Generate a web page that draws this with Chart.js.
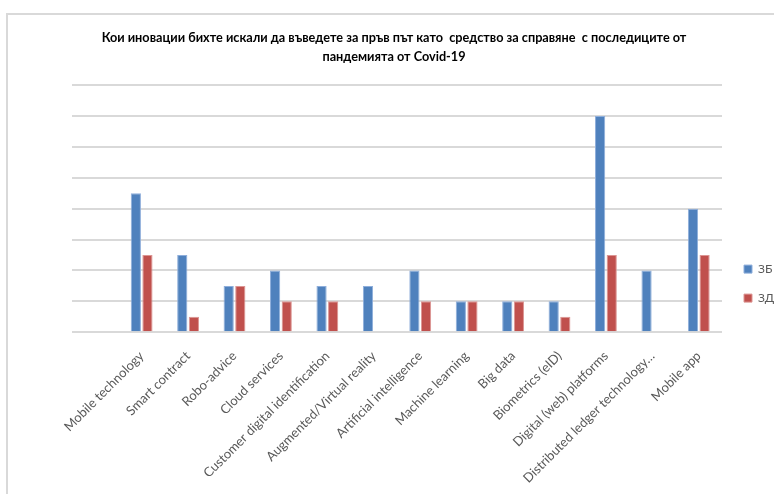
<!DOCTYPE html>
<html>
<head>
<meta charset="utf-8">
<script src="https://cdn.jsdelivr.net/npm/chart.js@4"></script>
<style>
  body { margin: 0; background: #fff; }
  #wrap { position: relative; width: 774px; height: 494px; overflow: hidden; }
  /* thin frame of the chart object, only left and top edges are in view */
  #frame { position: absolute; left: 6px; top: 13px; width: 800px; height: 500px;
           border-left: 2px solid #d9d9d9; border-top: 2px solid #d9d9d9; }
  #chart { position: absolute; left: 0; top: 0; }
</style>
</head>
<body>
<div id="wrap">
  <div id="frame"></div>
  <canvas id="chart" width="774" height="494"></canvas>
</div>
<script>
// categories (the first slot is left blank on purpose)
let categories = ['', 'Mobile technology', 'Smart contract', 'Robo-advice', 'Cloud services',
  'Customer digital identification', 'Augmented/Virtual reality', 'Artificial intelligence',
  'Machine learning', 'Big data', 'Biometrics (eID)', 'Digital (web) platforms',
  'Distributed ledger technology…', 'Mobile app'];

let series_names = ['ЗБ', 'ЗД'];
let values_zb = [null, 9, 5, 3, 4, 3, 3, 4, 2, 2, 2, 14, 4, 8];
let values_zd = [null, 5, 1, 3, 2, 2, 0, 2, 2, 2, 1, 5, 0, 5];

let y_max = 16;
let y_step = 2;

let title_lines = ['Кои иновации бихте искали да въведете за пръв път като  средство за справяне  с последиците от',
  'пандемията от Covid-19'];

const font_family = 'Lato, "Liberation Sans", sans-serif';

let ctx = document.getElementById('chart').getContext('2d');
window.myChart = new Chart(ctx, {
  type: 'bar',
  data: {
    labels: categories,
    datasets: [{
      label: series_names[0],
      data: values_zb,
      backgroundColor: '#4f81bd',
      borderColor: '#8eaedb',
      borderWidth: 1,
      categoryPercentage: 0.5,
      barPercentage: 0.88
    }, {
      label: series_names[1],
      data: values_zd,
      backgroundColor: '#c0504d',
      borderColor: '#dc9593',
      borderWidth: 1,
      categoryPercentage: 0.5,
      barPercentage: 0.88
    }]
  },
  options: {
    responsive: false,
    animation: false,
    layout: { padding: { left: 14, right: 0, top: 0, bottom: 0 } },
    plugins: {
      title: {
        display: true,
        text: title_lines,
        color: '#000',
        font: { family: font_family, size: 12.7, weight: 'bold', lineHeight: 1.5 },
        padding: { top: 28, bottom: 19 }
      },
      legend: {
        position: 'right',
        maxWidth: 47,
        // empty title only pushes the two entries a bit lower
        title: { display: true, text: '', font: { size: 1 }, padding: { top: 72, bottom: 0 } },
        labels: {
          boxWidth: 8,
          boxHeight: 8,
          padding: 17,
          color: '#595959',
          font: { family: font_family, size: 12 }
        }
      },
      tooltip: { enabled: false }
    },
    scales: {
      x: {
        grid: { display: false },
        border: { display: false },
        ticks: {
          minRotation: 45,
          maxRotation: 45,
          autoSkip: false,
          padding: 8,
          color: '#595959',
          font: { family: font_family, size: 13 }
        }
      },
      y: {
        min: 0,
        max: y_max,
        ticks: { display: false, stepSize: y_step },
        border: { display: false },
        grid: { color: '#d9d9d9', lineWidth: 2, drawTicks: false },
        afterFit: function (scale) { scale.width = 58; }
      },
      // spacer between plot and legend
      gap: {
        position: 'right',
        display: true,
        ticks: { display: false },
        grid: { display: false },
        border: { display: false },
        afterFit: function (scale) { scale.width = 5; }
      }
    }
  }
});
</script>
</body>
</html>
